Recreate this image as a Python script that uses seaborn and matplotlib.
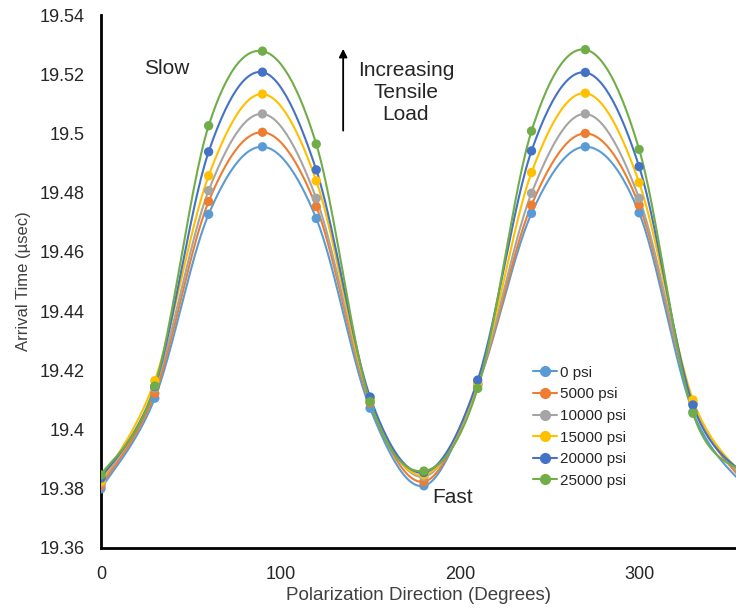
import numpy as np
import pandas as pd
import matplotlib
matplotlib.use("Agg")
import matplotlib.pyplot as plt
from matplotlib.lines import Line2D
from matplotlib.ticker import FuncFormatter
import seaborn as sns

# -------------------------------------------------------
# Data
# -------------------------------------------------------
degrees = [0, 30, 60, 90, 120, 150, 180, 210, 240, 270, 300, 330, 360]

loads = ["0 psi", "5000 psi", "10000 psi", "15000 psi", "20000 psi", "25000 psi"]

t_0 = [19.3800, 19.4106, 19.4727, 19.4955, 19.4713, 19.4072, 19.3810,
       19.4150, 19.4730, 19.4955, 19.4732, 19.4060, 19.3800]
t_5000 = [19.3810, 19.4122, 19.4770, 19.5004, 19.4753, 19.4090, 19.3824,
          19.4152, 19.4758, 19.5000, 19.4758, 19.4085, 19.3810]
t_10000 = [19.3820, 19.4140, 19.4807, 19.5066, 19.4781, 19.4100, 19.3841,
           19.4155, 19.4798, 19.5066, 19.4781, 19.4090, 19.3820]
t_15000 = [19.3825, 19.4165, 19.4857, 19.5133, 19.4840, 19.4100, 19.3847,
           19.4158, 19.4868, 19.5136, 19.4834, 19.4100, 19.3830]
t_20000 = [19.3836, 19.4145, 19.4938, 19.5207, 19.4877, 19.4110, 19.3855,
           19.4167, 19.4941, 19.5206, 19.4888, 19.4083, 19.3840]
t_25000 = [19.3847, 19.4147, 19.5026, 19.5278, 19.4964, 19.4094, 19.3860,
           19.4139, 19.5008, 19.5283, 19.4946, 19.4055, 19.3850]

series = [t_0, t_5000, t_10000, t_15000, t_20000, t_25000]
colors = ["#5B9BD5", "#ED7D31", "#A5A5A5", "#FFC000", "#4472C4", "#70AD47"]


# Excel-style smoothed line (Catmull-Rom as cubic Bezier)
def smooth(xs, ys, n=30):
    P = np.column_stack([xs, ys]).astype(float)
    Pe = np.vstack([P[0], P, P[-1]])
    t = np.linspace(0, 1, n)[:, None]
    out = []
    for i in range(len(P) - 1):
        p0, p1, p2, p3 = Pe[i], Pe[i + 1], Pe[i + 2], Pe[i + 3]
        c1 = p1 + (p2 - p0) / 6
        c2 = p2 - (p3 - p1) / 6
        seg = (1 - t) ** 3 * p1 + 3 * (1 - t) ** 2 * t * c1 + 3 * (1 - t) * t ** 2 * c2 + t ** 3 * p2
        out.append(seg if i == 0 else seg[1:])
    return np.vstack(out)


points = pd.DataFrame({
    "deg": np.tile(degrees, len(loads)),
    "time": np.concatenate(series),
    "load": np.repeat(loads, len(degrees)),
})

curves = []
for name, ys in zip(loads, series):
    s = smooth(degrees, ys)
    curves.append(pd.DataFrame({"deg": s[:, 0], "time": s[:, 1], "load": name}))
curves = pd.concat(curves, ignore_index=True)

# -------------------------------------------------------
# Plot
# -------------------------------------------------------
sns.set_style("white")
plt.rcParams["font.family"] = ["Liberation Sans", "DejaVu Sans"]

fig = plt.figure(figsize=(7.36, 6.13), dpi=100)
ax = fig.add_axes([101 / 736, 65 / 613, 635 / 736, 533 / 613])

palette = dict(zip(loads, colors))
sns.lineplot(data=curves, x="deg", y="time", hue="load", palette=palette,
             sort=False, estimator=None, linewidth=1.5, legend=False, ax=ax)
sns.scatterplot(data=points, x="deg", y="time", hue="load", palette=palette,
                s=45, edgecolor="none", legend=False, ax=ax, zorder=3)

# plot area is cut off at the right edge of the picture
ax.set_xlim(0, 354)
ax.set_ylim(19.36, 19.54)
ax.set_xticks([0, 100, 200, 300])
ax.set_yticks(np.arange(19.36, 19.5401, 0.02))
ax.yaxis.set_major_formatter(FuncFormatter(lambda v, p: f"{round(v, 2):g}"))
ax.tick_params(direction="in", length=5, width=1.5, labelsize=13, colors="black")
ax.tick_params(axis="y", pad=12)
ax.tick_params(axis="x", pad=13)
for lab in ax.get_xticklabels() + ax.get_yticklabels():
    lab.set_color("#262626")

for side in ["top", "right"]:
    ax.spines[side].set_visible(False)
for side in ["left", "bottom"]:
    ax.spines[side].set_linewidth(2)
    ax.spines[side].set_color("black")

ax.set_xlabel("Polarization Direction (Degrees)", fontsize=13.5, color="#404040", labelpad=3)
ax.set_ylabel("Arrival Time (µsec)", fontsize=12, color="#404040", labelpad=6)

# Annotations
ax.text(24, 19.5221, "Slow", fontsize=15, ha="left", va="center")
ax.text(196, 19.3769, "Fast", fontsize=15, ha="center", va="center")
ax.text(170, 19.5137, "Increasing\nTensile\nLoad", fontsize=15, ha="center",
        va="center", linespacing=1.2)
ax.annotate("", xy=(135, 19.5295), xytext=(135, 19.5),
            arrowprops=dict(arrowstyle="-|>", color="black", lw=1.3,
                            mutation_scale=12))

# Legend
handles = [Line2D([0], [0], color=c, marker="o", markersize=7, lw=1.5) for c in colors]
ax.legend(handles, loads, loc="upper left", bbox_to_anchor=(525 / 736, 1 - 358 / 613),
          bbox_transform=fig.transFigure, frameon=False, fontsize=11,
          handlelength=1.6, handletextpad=0.2, labelspacing=0.5, borderpad=0)

fig.savefig("out.png", dpi=100)
